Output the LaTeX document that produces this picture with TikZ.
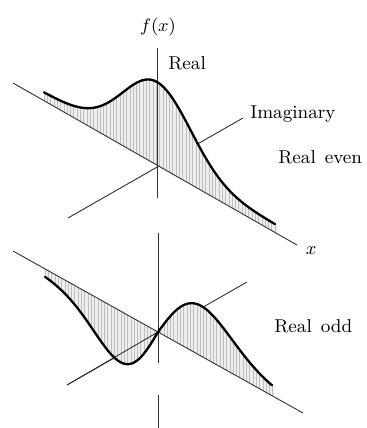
\documentclass[tikz,border=0pt]{standalone}
\usepackage{tikz}
\usetikzlibrary{positioning}

\begin{document}
\begin{tikzpicture}[
  x=0.5pt, y=-0.5pt,
  declare function={
    feven(\t)=75*exp(-((\t)*(\t))/2304)+8;
    fodd(\t)=(\t<0) ? (2.1*(\t)*exp(-((\t)*(\t))/2704)+6*tanh((\t)/40))
                    : (1.8*(\t)*exp(-((\t)*(\t))/3600)+5*tanh((\t)/40));
  },
  every node/.style={font=\fontsize{9.3}{11}\selectfont, inner sep=1pt},
  axis/.style={line width=0.45pt, color=black!80},
  curve/.style={line width=1.15pt, line cap=round},
  shade/.style={fill=gray!13},
  hatch/.style={line width=0.3pt, color=gray!50},
  lbl/.style={anchor=west},
]
  \useasboundingbox (0,0) rectangle (366,428);

  % real even
  \coordinate (o1) at (157,165);
  \coordinate (xa1) at (13,83);
  \coordinate (xb1) at (297,245);
  \coordinate (ima1) at (68,218);
  \coordinate (imb1) at (243,118);
  \coordinate (va1) at (157,48);
  \coordinate (vb1) at (157,198);

  \draw[axis] (ima1) -- (imb1);
  \begin{scope}
    \clip plot[domain=-113:120, samples=90] ({157+\x},{165+0.57*\x-feven(\x)})
      -- (277,233.4) -- (44,100.6) -- cycle;
    \fill[shade] (30,60) rectangle (290,240);
    \foreach \h in {44,47.3,...,280} \draw[hatch] (\h,60) -- (\h,240);
  \end{scope}
  \draw[axis] (xa1) -- (xb1);
  \draw[axis] (va1) -- (vb1);
  \draw[curve] plot[domain=-113:118, samples=90] ({157+\x},{165+0.57*\x-feven(\x)});

  \node (fx) at (158,27) {$f(x)$};
  \node[lbl] (re1) at (166,63) {Real};
  \node[lbl] (im1) at (248,114) {Imaginary};
  \node[lbl] (even) at (276,157) {Real\hspace{4.5pt}even};
  \node (x1) at (311,251) {$x$};

  % real odd
  \coordinate (o2) at (158,332);
  \coordinate (xa2) at (13,251);
  \coordinate (xb2) at (303,413);
  \coordinate (ima2) at (67,385);
  \coordinate (imb2) at (247,282);
  \coordinate (va2) at (158,233);
  \coordinate (vb2) at (158,363);
  \coordinate (vc2) at (158,395);
  \coordinate (vd2) at (158,428);

  \draw[axis] (ima2) -- (imb2);
  \begin{scope}
    \clip plot[domain=-113:116, samples=100] ({158+\x},{332+0.56*\x-fodd(\x)})
      -- (274,397) -- (45,268.7) -- cycle;
    \fill[shade] (30,240) rectangle (290,410);
    \foreach \h in {45,48.3,...,280} \draw[hatch] (\h,240) -- (\h,410);
  \end{scope}
  \draw[axis] (ima2) -- (o2);
  \draw[axis] (xa2) -- (xb2);
  \draw[axis] (va2) -- (vb2);
  \draw[axis] (vc2) -- (vd2);
  \draw[curve] plot[domain=-113:114, samples=100] ({158+\x},{332+0.56*\x-fodd(\x)});

  \node[lbl] (odd) at (272,326) {Real\hspace{4.5pt}odd};
\end{tikzpicture}
\end{document}
